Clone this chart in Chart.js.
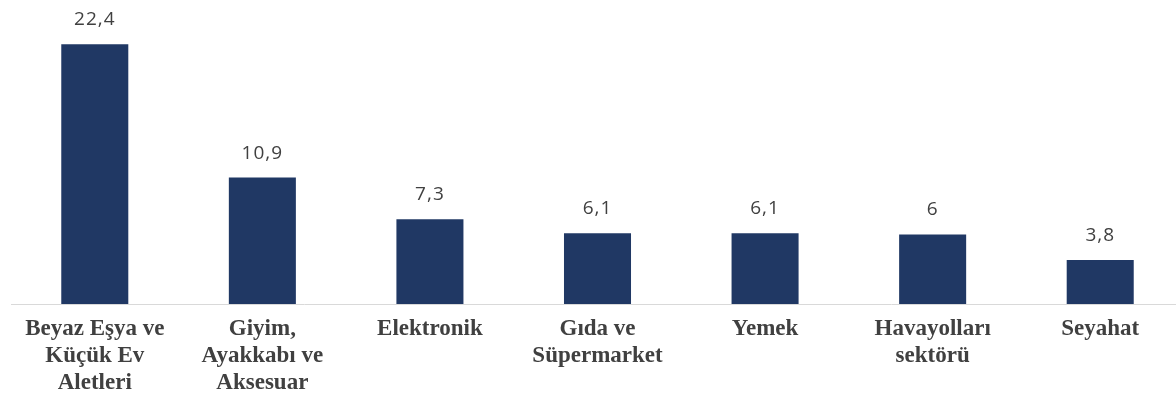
<!DOCTYPE html>
<html>
<head>
<meta charset="utf-8">
<script src="https://cdn.jsdelivr.net/npm/chart.js@4.4.1/dist/chart.umd.min.js"></script>
<style>
  html, body { margin: 0; padding: 0; background: #ffffff; overflow: hidden; }
  #wrap { width: 1184px; height: 403px; position: relative; }
</style>
</head>
<body>
<div id="wrap"><canvas id="c"></canvas></div>
<script>
const categories = [
  ["Beyaz Eşya ve", "Küçük Ev", "Aletleri"],
  ["Giyim,", "Ayakkabı ve", "Aksesuar"],
  ["Elektronik"],
  ["Gıda ve", "Süpermarket"],
  ["Yemek"],
  ["Havayolları", "sektörü"],
  ["Seyahat"]
];
const values = [22.4, 10.9, 7.3, 6.1, 6.1, 6, 3.8];
const yMin = 0;
const yMax = 25;

const valueLabels = {
  id: 'valueLabels',
  afterDatasetsDraw(chart) {
    const ctx = chart.ctx;
    const meta = chart.getDatasetMeta(0);
    ctx.save();
    ctx.font = '19px "Open Sans"';
    ctx.fillStyle = '#404040';
    ctx.textAlign = 'center';
    ctx.textBaseline = 'alphabetic';
    try { ctx.letterSpacing = '1px'; } catch (e) {}
    meta.data.forEach((bar, i) => {
      const v = chart.data.datasets[0].data[i];
      const txt = String(v).replace('.', ',');
      ctx.fillText(txt, bar.x, bar.y - 19);
    });
    ctx.restore();
  }
};

new Chart(document.getElementById('c'), {
  type: 'bar',
  data: {
    labels: categories,
    datasets: [{
      data: values,
      backgroundColor: '#203864',
      borderWidth: 0,
      barPercentage: 0.4,
      categoryPercentage: 1.0
    }]
  },
  options: {
    responsive: true,
    maintainAspectRatio: false,
    animation: false,
    layout: { padding: { left: 11, right: 0, top: 14, bottom: 0 } },
    plugins: { legend: { display: false }, tooltip: { enabled: false } },
    scales: {
      x: {
        afterFit(s) { s.height = 99; },
        grid: { display: false, drawTicks: false },
        border: { display: true, color: '#d9d9d9', width: 1 },
        ticks: {
          color: '#404040',
          padding: 12,
          maxRotation: 0,
          autoSkip: false,
          font: { family: '"Liberation Serif", "Times New Roman", serif', size: 23, weight: 'bold', lineHeight: 1.17 }
        }
      },
      y: {
        display: false,
        min: yMin,
        max: yMax
      }
    }
  },
  plugins: [valueLabels]
});
</script>
</body>
</html>
